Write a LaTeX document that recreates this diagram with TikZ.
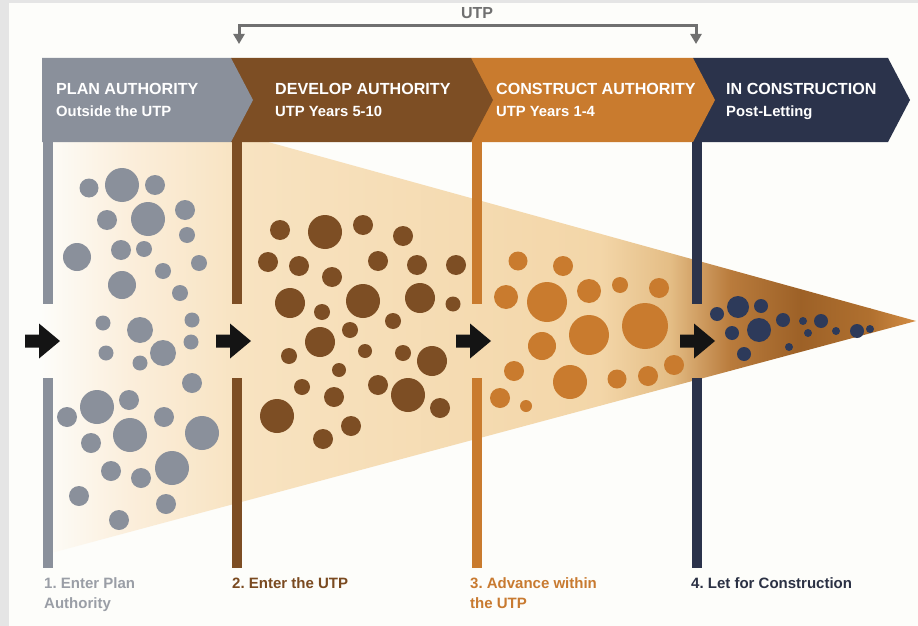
\documentclass[tikz,border=0pt]{standalone}
\usepackage{fontspec}
\setmainfont{Liberation Sans}
\usetikzlibrary{%
        arrows.meta
    }
\definecolor{slate}{HTML}{8A909B}
\definecolor{bark}{HTML}{7D4E24}
\definecolor{amber}{HTML}{C97B2E}
\definecolor{ink}{HTML}{2B334B}
\definecolor{inkdot}{HTML}{2D3A5A}
\definecolor{paper}{HTML}{FDFDFA}
\definecolor{frame}{HTML}{E5E5E5}
\definecolor{bracketgray}{HTML}{707070}
\definecolor{labelgray}{HTML}{9A9EA6}
\definecolor{labelbark}{HTML}{7A4A20}
\definecolor{labelamber}{HTML}{C87A30}
\definecolor{labelink}{HTML}{2B3144}
\definecolor{cream1}{HTML}{FBEEDB}
\definecolor{cream2}{HTML}{F8E3C1}
\definecolor{cream3}{HTML}{F3D6A8}
\definecolor{tan1}{HTML}{E4BD85}
\definecolor{tan2}{HTML}{B97B3C}
\definecolor{tan3}{HTML}{9D6127}
\definecolor{tan4}{HTML}{B0702F}
\definecolor{tan5}{HTML}{D58E44}
\tikzset{%
    headtext/.style={text=white, anchor=base west, inner sep=0pt,
        font=\bfseries\fontsize{16.1}{19}\selectfont},
    subtext/.style={headtext, font=\bfseries\fontsize{14.8}{18}\selectfont},
    steplabel/.style={anchor=base west, inner sep=0pt, align=left,
        font=\bfseries\fontsize{15}{20}\selectfont},
    flowarrow/.pic={%
        code{%
            \fill[black!92]
                (0, -6.5) -- (14, -6.5) -- (14, -17.5) --
                (35, 0) --
                (14, 17.5) -- (14, 6.5) -- (0, 6.5) -- cycle;
        }
    }
}
\frenchspacing

\begin{document}
\begin{tikzpicture}[x=1pt, y=-1pt]

    % Page
    \fill[frame] (0, 0) rectangle (918, 626);
    \fill[paper] (9, 3) rectangle (918, 626);
    \useasboundingbox (0, 0) rectangle (918, 626);

    % Funnel
    \begin{scope}
        \clip (40, 79) -- (916, 321) -- (40, 556) -- cycle;
        \shade[left color=paper, right color=cream1] (40, 60) rectangle (130.5, 570);
        \shade[left color=cream1, right color=cream2] (130, 60) rectangle (240.5, 570);
        \shade[left color=cream2, right color=cream3] (240, 60) rectangle (600.5, 570);
        \shade[left color=cream3, right color=tan1] (600, 60) rectangle (670.5, 570);
        \shade[left color=tan1, right color=tan2] (670, 60) rectangle (730.5, 570);
        \shade[left color=tan2, right color=tan3] (730, 60) rectangle (800.5, 570);
        \shade[left color=tan3, right color=tan4] (800, 60) rectangle (870.5, 570);
        \shade[left color=tan4, right color=tan5] (870, 60) rectangle (918, 570);
    \end{scope}

    % Phase bars
    \foreach \xa/\xb/\col in {693/888/ink, 471/693/amber, 231/471/bark, 42/231/slate}{%
        \fill[\col] (\xa, 58) -- (\xb, 58) -- (\xb+22, 100) --
            (\xb, 142) -- (\xa, 142) -- cycle;
    };

    % Gates
    \foreach \xx/\col in {47.5/slate, 236.5/bark, 477/amber, 696.5/ink}{%
        \fill[\col] (\xx-5, 142) rectangle (\xx+5, 304);
        \fill[\col] (\xx-5, 378) rectangle (\xx+5, 568);
    };

    \node[headtext] (plan-head) at (56, 95) {PLAN AUTHORITY};
    \node[subtext] (plan-sub) at (56, 116) {Outside the UTP};
    \node[headtext] (develop-head) at (275, 95) {DEVELOP AUTHORITY};
    \node[subtext] (develop-sub) at (275, 116) {UTP Years 5-10};
    \node[headtext] (construct-head) at (496, 95) {CONSTRUCT AUTHORITY};
    \node[subtext] (construct-sub) at (496, 116) {UTP Years 1-4};
    \node[headtext] (building-head) at (726, 95) {IN CONSTRUCTION};
    \node[subtext] (building-sub) at (726, 116) {Post-Letting};

    % UTP bracket
    \node[text=bracketgray, font=\bfseries\fontsize{16}{18}\selectfont]
        (utp) at (477, 13) {UTP};
    \coordinate (utp-bar) at (477, 25.5);
    \coordinate (utp-start) at (239, 44);
    \coordinate (utp-end) at (696, 44);
    \draw[bracketgray, line width=3pt, -{Triangle[width=11pt, length=10pt]}]
        (utp-bar) -| (utp-start);
    \draw[bracketgray, line width=3pt, -{Triangle[width=11pt, length=10pt]}]
        (utp-bar) -| (utp-end);

    % Plan projects
    \foreach \x/\y/\r in {89/188/9.5, 122/185/17, 155/185/10, 107/220/10,
        148/219/17, 185/210/10, 77/257/14, 121/250/10, 144/249/8,
        187/235/8, 199/263/8, 163/271/8, 122/285/14, 180/293/8,
        103/323/7.5, 140/330/13, 192/320/7.5, 106/353/7.5, 163/353/13,
        140/363/7.5, 191/342/7.5, 192/383/10, 97/407/17, 129/400/10,
        67/417/10, 130/435/17, 164/417/10, 202/433/17, 91/443/10,
        111/471/10, 141/478/10, 172/468/17, 79/496/10, 166/504/10,
        119/520/10}{%
        \fill[slate] (\x, \y) circle[radius=\r];
    };

    % Develop projects
    \foreach \x/\y/\r in {280/230/10, 325/232/17, 363/225/10, 403/236/10,
        268/262/10, 299/266/10, 332/277/10, 378/261/10, 417/265/10,
        456/265/10, 290/303/15, 322/312/8, 363/301/17, 420/298/15,
        453/304/7.5, 393/321/8, 350/330/8, 320/342/15, 289/356/8,
        365/351/7, 403/353/8, 432/361/15, 339/370/7, 302/387/8,
        334/397/10, 378/385/10, 408/395/17, 440/408/10, 277/416/17,
        351/426/10, 323/439/10}{%
        \fill[bark] (\x, \y) circle[radius=\r];
    };

    % Construct projects
    \foreach \x/\y/\r in {518/261/9.5, 563/266/10, 506/297/12, 547/302/20,
        589/291/12, 620/285/8, 659/288/10, 589/335/20, 645/326/23,
        542/346/14, 514/371/10, 570/382/17, 617/379/9.5, 648/376/10,
        674/365/10, 500/398/10, 526/406/6}{%
        \fill[amber] (\x, \y) circle[radius=\r];
    };

    % Let projects
    \foreach \x/\y/\r in {717/314/7, 738/307/11, 761/306/7, 732/333/7,
        759/330/12, 744/354/7, 783/320/7, 803/321/4, 821/321/7,
        808/333/4, 789/347/4, 836/331/4, 857/331/7, 870/329/4}{%
        \fill[inkdot] (\x, \y) circle[radius=\r];
    };

    % Flow
    \path (25, 341) pic {flowarrow}
          (216, 341) pic {flowarrow}
          (456, 341) pic {flowarrow}
          (680, 341) pic {flowarrow};

    % Steps (base anchor sits on the last line)
    \node[steplabel, text=labelgray] (enter-plan) at (44, 608)
        {1. Enter Plan\\Authority};
    \node[steplabel, text=labelbark] (enter-utp) at (232, 588)
        {2. Enter the UTP};
    \node[steplabel, text=labelamber] (advance-utp) at (470, 608)
        {3. Advance within\\the UTP};
    \node[steplabel, text=labelink] (let-construct) at (691, 588)
        {4. Let for Construction};

\end{tikzpicture}
\end{document}
